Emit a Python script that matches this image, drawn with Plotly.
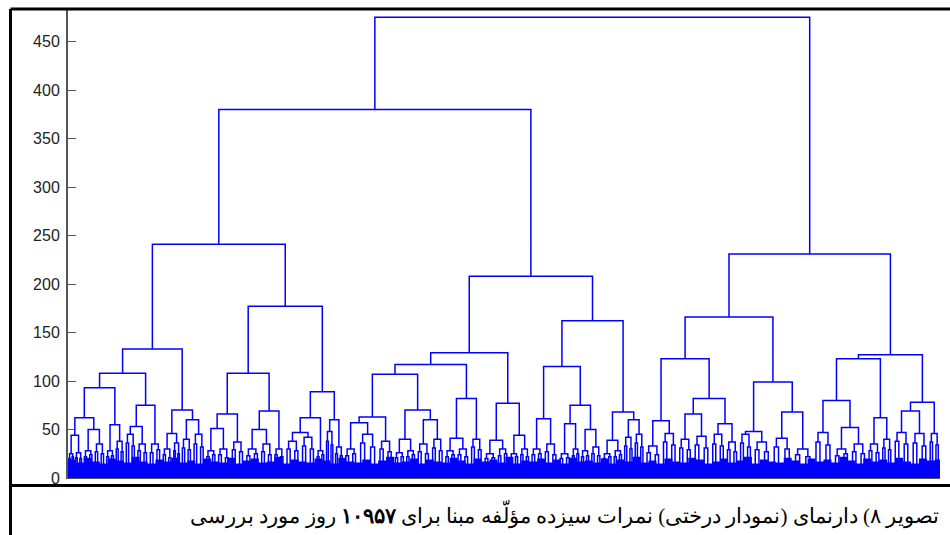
import plotly.graph_objects as go

# ---------------- data ----------------
# leaf clusters, left to right: size in days and merge height
leaf_days = [79, 107, 135, 148, 119, 123, 145, 154, 167, 138,
             101, 145, 163, 145, 170, 182, 189, 170, 145, 195,
             195, 119, 113, 119, 176, 251, 201, 145, 138, 182,
             170, 151, 170, 170, 170, 151, 132, 138, 163, 189,
             163, 113, 126, 145, 138, 132, 132, 138, 207, 207,
             189, 226, 189, 163, 176, 233, 270, 258, 251, 214,
             214, 176, 145, 226, 226, 145]
leaf_height = [25, 26, 28, 35, 28, 38, 45, 35, 35, 30,
               36, 40, 45, 28, 30, 37, 30, 35, 30, 38,
               42, 28, 48, 32, 30, 45, 38, 26, 28, 35,
               40, 28, 30, 40, 25, 30, 25, 30, 30, 35,
               25, 30, 28, 32, 25, 28, 42, 45, 33, 46,
               40, 43, 45, 37, 45, 37, 41, 30, 47, 30,
               35, 35, 40, 47, 46, 46]
# merge heights of the two sub-clusters inside each leaf cluster
leaf_sub_left = [20, 21, 22, 27, 22, 30, 36, 28, 26, 24,
                 28, 31, 35, 22, 24, 29, 23, 27, 24, 30,
                 33, 22, 38, 25, 23, 36, 30, 21, 22, 27,
                 31, 22, 24, 32, 20, 23, 20, 24, 24, 27,
                 20, 23, 22, 25, 20, 22, 33, 36, 26, 37,
                 31, 34, 35, 29, 36, 29, 32, 24, 37, 23,
                 27, 28, 31, 38, 36, 37]
leaf_sub_right = [22, 20, 24, 25, 23, 27, 33, 26, 29, 21,
                  25, 29, 32, 24, 21, 27, 25, 24, 22, 28,
                  30, 24, 34, 23, 25, 32, 27, 22, 24, 25,
                  28, 24, 22, 29, 21, 25, 22, 22, 25, 24,
                  21, 25, 23, 23, 22, 24, 30, 32, 24, 34,
                  29, 31, 33, 27, 32, 27, 30, 22, 34, 25,
                  25, 26, 29, 35, 33, 34]

# top of the dense low-level mass, per 100-day bin
mass_bin_days = 100
mass_top = [19, 16, 21, 17, 15, 20, 18, 16, 22, 17,
            15, 19, 17, 21, 16, 18, 15, 20, 17, 16,
            21, 15, 18, 20, 16, 17, 22, 15, 19, 17,
            16, 20, 18, 15, 21, 17, 16, 19, 15, 18,
            22, 16, 17, 20, 15, 19, 17, 16, 21, 18,
            15, 20, 17, 19, 16, 22, 15, 18, 17, 20,
            16, 19, 15, 21, 17, 18, 16, 20, 15, 19,
            17, 22, 16, 18, 15, 20, 17, 16, 21, 19,
            15, 17, 20, 16, 18, 22, 15, 19, 17, 16,
            21, 18, 15, 20, 17, 19, 16, 22, 18, 15,
            20, 17, 19, 16, 21, 17, 15, 20, 18, 19]

# merge tree: (height, left, right); ints are leaf indices
B_left = (133,
          (108,
           (93, (62, (44, 0, 1), (50, 2, 3)), (55, 4, 5)),
           (75, (53, 6, 7), 8)),
          (70, (46, 9, 10), (60, 11, 12)))
B_right = (177,
           (108, (66, (51, 13, 14), 15), (69, (50, 16, 17), 18)),
           (89, (62, (47, 19, 20), 21), (60, 22, 23)))
C_left = (129,
          (117,
           (107, (63, (57, 24, 25), 26), (70, (40, 27, 28), (60, 29, 30))),
           (82, (41, 31, 32), 33)),
          (77, (39, 34, 35), (44, 36, 37)))
C_right = (162,
           (115, (61, 38, 39), (75, (56, 40, 41), (50, 42, 43))),
           (68, (39, 44, 45), (60, 46, 47)))
D_left = (166,
          (123, (59, 48, 49), (82, (66, 50, 51), (56, 52, 53))),
          (99, (48, 54, 55), (68, 56, 57)))
D_right = (127,
           (123, (80, 58, (52, 59, 60)), (62, 61, 62)),
           (78, (69, 63, 64), 65))
top_heights = {"B": 241, "C": 208, "A": 380, "D": 231, "root": 475}

y_ticks = [0, 50, 100, 150, 200, 250, 300, 350, 400, 450]
caption = "تصویر ۸) دارنمای (نمودار درختی) نمرات سیزده مؤلّفه مبنا برای <b>۱۰۹۵۷</b> روز مورد بررسی"

# ---------------- build tree ----------------
B = (top_heights["B"], B_left, B_right)
C = (top_heights["C"], C_left, C_right)
A = (top_heights["A"], B, C)
D = (top_heights["D"], D_left, D_right)
root = (top_heights["root"], A, D)

total_days = sum(leaf_days)
centers = []
acc = 0
for d in leaf_days:
    centers.append(acc + d / 2)
    acc += d

xs, ys = [], []
MAIN_FRAC = 0.25
SUB_FRAC = 0.1


def u_link(xl, hl, xr, hr, h):
    xs.extend([xl, xl, xr, xr, None])
    ys.extend([hl, h, h, hr, None])


def draw(node):
    if isinstance(node, int):
        c = centers[node]
        s = leaf_days[node]
        w, v = s * MAIN_FRAC, s * SUB_FRAC
        hl, hr = leaf_sub_left[node], leaf_sub_right[node]
        u_link(c - w - v, 0, c - w + v, 0, hl)
        u_link(c + w - v, 0, c + w + v, 0, hr)
        u_link(c - w, hl, c + w, hr, leaf_height[node])
        return c, leaf_height[node]
    h, l, r = node
    xl, hl = draw(l)
    xr, hr = draw(r)
    u_link(xl, hl, xr, hr, h)
    return (xl + xr) / 2, h


draw(root)

mx = [i * mass_bin_days for i in range(len(mass_top))] + [total_days]
my = mass_top + [mass_top[-1]]

BLUE = "#0000ff"
fig = go.Figure()
fig.add_trace(go.Scatter(x=mx, y=my, mode="lines", line=dict(shape="hv", width=0, color=BLUE),
                         fill="tozeroy", fillcolor=BLUE, hoverinfo="skip", showlegend=False))
fig.add_trace(go.Scatter(x=xs, y=ys, mode="lines", line=dict(color=BLUE, width=1.5),
                         hoverinfo="skip", showlegend=False))

# ---------------- layout ----------------
W, H = 950, 535
L, R, T, Bm = 68, 10, 9, 57
PW, PH = W - L - R, H - T - Bm


def px(x):
    return (x - L) / PW


def py(y):
    return (H - Bm - y) / PH


fig.update_layout(
    width=W, height=H,
    margin=dict(l=L, r=R, t=T, b=Bm),
    paper_bgcolor="white", plot_bgcolor="white",
    xaxis=dict(range=[0, total_days], showgrid=False, zeroline=False, showticklabels=False,
               ticks="", showline=True, linecolor="#555555", linewidth=1),
    yaxis=dict(range=[0, 483.5], tickvals=y_ticks, ticks="inside", ticklen=8, tickwidth=1,
               tickcolor="#555555", showline=True, linecolor="#555555", linewidth=2,
               showgrid=False, zeroline=False, ticklabelstandoff=3,
               tickfont=dict(family="Liberation Sans, Arial, sans-serif", size=16, color="#222222")),
    font=dict(family="Liberation Sans, Arial, sans-serif"),
    shapes=[
        dict(type="line", xref="paper", yref="paper", x0=px(10.5), x1=px(950), y0=py(9), y1=py(9),
             line=dict(color="black", width=3)),
        dict(type="line", xref="paper", yref="paper", x0=px(10.5), x1=px(10.5), y0=py(9), y1=py(535),
             line=dict(color="black", width=3)),
        dict(type="line", xref="paper", yref="paper", x0=px(10.5), x1=px(950), y0=py(485.5), y1=py(485.5),
             line=dict(color="black", width=3)),
    ],
    annotations=[dict(text=caption, xref="paper", yref="paper", x=px(941), y=py(514),
                      xanchor="right", yanchor="middle", showarrow=False,
                      font=dict(family="Times New Roman, Liberation Serif, serif", size=21, color="black"))],
)

fig.write_html("out.html", config={"displayModeBar": False},
               post_script="document.body.style.margin='0';document.body.style.padding='0';")
